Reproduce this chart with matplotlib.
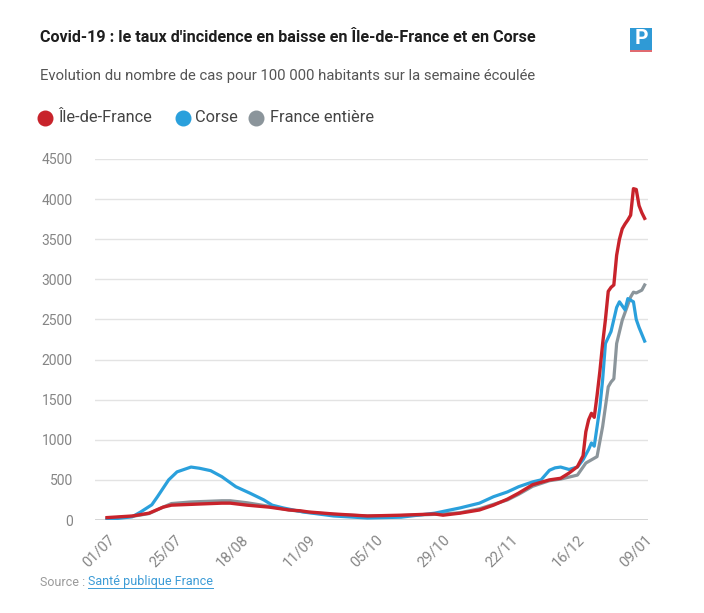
"""Incidence Covid-19 : Île-de-France, Corse, France entière (juillet 2021 - janvier 2022)."""
import matplotlib
matplotlib.use("Agg")
import matplotlib.pyplot as plt
from matplotlib import font_manager
from matplotlib.lines import Line2D
from matplotlib.patches import Rectangle
import pandas as pd

W, H = 704, 613
START = pd.Timestamp("2021-07-01")

# jours depuis le 01/07 et valeurs
ile_days = [0, 9, 15, 20, 23, 30, 41, 44, 50, 58, 65, 69, 72, 81, 93, 105, 117, 120,
            126, 133, 138, 143, 147, 152, 158, 162, 165, 168, 170, 171, 172, 173, 174,
            175, 176, 177, 178, 179, 180, 181, 182, 183, 184, 185, 186, 187, 188, 189,
            190, 191, 192]
ile_vals = [30, 50, 85, 160, 185, 195, 210, 210, 185, 160, 125, 115, 100, 75, 50, 60, 75, 60,
            85, 125, 185, 260, 335, 440, 500, 520, 585, 665, 800, 1100, 1250, 1330, 1280,
            1550, 1850, 2200, 2500, 2850, 2900, 2930, 3300, 3500, 3630, 3690, 3740, 3800, 4130, 4120,
            3920, 3830, 3760]

corse_days = [0, 9, 12, 16, 18, 20, 22, 25, 30, 33, 37, 41, 46, 51, 56, 59, 63, 70, 81, 93,
              105, 117, 126, 133, 138, 143, 147, 152, 155, 158, 160, 162, 165, 168, 170, 172,
              173, 174, 176, 177, 178, 180, 182, 183, 185, 186, 188, 189, 190, 192]
corse_vals = [5, 40, 100, 190, 290, 395, 500, 600, 660, 645, 615, 540, 415, 335, 250, 185, 150,
              100, 50, 25, 35, 85, 150, 210, 290, 350, 415, 475, 500, 620, 650, 660, 630, 660,
              750, 880, 960, 920, 1400, 1750, 2200, 2350, 2650, 2720, 2620, 2760, 2720, 2500,
              2400, 2230]

france_days = [0, 9, 15, 20, 23, 30, 41, 44, 50, 58, 65, 72, 81, 93, 105, 117, 126, 133, 138,
               143, 147, 152, 158, 162, 168, 171, 173, 175, 177, 179, 180, 181, 182, 184, 187,
               188, 189, 191, 192]
france_vals = [20, 45, 80, 160, 205, 225, 240, 240, 215, 170, 125, 95, 70, 50, 55, 70, 90, 140,
               195, 250, 320, 420, 490, 510, 560, 710, 750, 790, 1165, 1660, 1720, 1760, 2200,
               2490, 2780, 2840, 2830, 2865, 2930]

tick_days = [0, 24, 48, 72, 96, 120, 144, 168, 192]
tick_labels = ["01/07", "25/07", "18/08", "11/09", "05/10", "29/10", "22/11", "16/12", "09/01"]
yticks = [0, 500, 1000, 1500, 2000, 2500, 3000, 3500, 4000, 4500]

RED, BLUE, GREY = "#c8232b", "#2aa0dc", "#8b959b"

names = {f.name for f in font_manager.fontManager.ttflist}
NARROW = "Liberation Sans Narrow" if "Liberation Sans Narrow" in names else "Roboto"
REG = "Roboto"


def to_dates(days):
    return START + pd.to_timedelta(days, unit="D")


def fx(px):
    return px / W


def fy(py):
    return 1 - py / H


fig = plt.figure(figsize=(W / 100, H / 100), dpi=100)
fig.patch.set_facecolor("white")
ax = fig.add_axes([fx(95), fy(520), fx(648) - fx(95), fy(159) - fy(520)])

ax.plot(to_dates(france_days), france_vals, color=GREY, lw=2.3, solid_joinstyle="round", zorder=3)
ax.plot(to_dates(corse_days), corse_vals, color=BLUE, lw=2.3, solid_joinstyle="round", zorder=4)
ax.plot(to_dates(ile_days), ile_vals, color=RED, lw=2.4, solid_joinstyle="round", zorder=5)

ax.set_ylim(0, 4500)
ax.set_xlim(START - pd.Timedelta(days=4.3), START + pd.Timedelta(days=193.2))
ax.set_yticks(yticks)
ax.set_yticklabels([str(v) for v in yticks], fontsize=10, color="#858585", family=REG)
ax.set_xticks(to_dates(tick_days))
ax.set_xticklabels(tick_labels, fontsize=10.5, color="#858585", family=REG,
                   rotation=45, ha="right", rotation_mode="anchor")
ax.tick_params(axis="both", length=0)
ax.tick_params(axis="y", pad=16)
ax.tick_params(axis="x", pad=9)
ax.grid(True, axis="y", color="#e3e3e3", lw=1)
ax.set_axisbelow(True)
for s in ax.spines.values():
    s.set_visible(False)
ax.axhline(0, color="#cfcfcf", lw=1.2, zorder=1)

# titres
title = fig.text(fx(40), fy(38), "Covid-19 : le taux d'incidence en baisse en Île-de-France et en Corse",
                 fontsize=15, fontweight="bold", color="#1e1e1e", family=NARROW, va="center")
sub = fig.text(fx(40), fy(76), "Evolution du nombre de cas pour 100 000 habitants sur la semaine écoulée",
               fontsize=12, color="#555555", family=NARROW, va="center")

# légende
legend_items = [(45, 58, "Île-de-France", RED), (183, 195, "Corse", BLUE), (256, 270, "France entière", GREY)]
for cx, tx, lab, col in legend_items:
    fig.add_artist(Line2D([fx(cx)], [fy(118)], marker="o", ms=10.5, color=col, ls="none",
                          transform=fig.transFigure))
    fig.text(fx(tx), fy(118), lab, fontsize=11.8, color="#444444", family=REG, va="center")

# logo
fig.add_artist(Rectangle((fx(630), fy(50)), fx(22), 22 / H, transform=fig.transFigure,
                         facecolor="#2f9ad6", edgecolor="none"))
fig.add_artist(Rectangle((fx(630), fy(52)), fx(22), 2 / H, transform=fig.transFigure,
                         facecolor="#e06a70", edgecolor="none"))
fig.text(fx(641), fy(39), "P", fontsize=15, fontweight="bold", color="white",
         family=NARROW, ha="center", va="center")

# source
src = fig.text(fx(40), fy(582), "Source : ", fontsize=9, color="#9a9a9a", family=NARROW, va="center")

fig.canvas.draw()
r = fig.canvas.get_renderer()
for t, target in [(title, 498), (sub, 497)]:
    w = t.get_window_extent(r).width
    t.set_fontsize(t.get_fontsize() * target / w)
fig.canvas.draw()
e = src.get_window_extent(r)
x0 = e.x1 / W
link = fig.text(x0, fy(582), "Santé publique France", fontsize=9, color="#3c9bd6",
                family=NARROW, va="center")
fig.canvas.draw()
le = link.get_window_extent(r)
fig.add_artist(Line2D([le.x0 / W, le.x1 / W], [(le.y0 + 1) / H] * 2, color="#3c9bd6", lw=0.7,
                      transform=fig.transFigure))

fig.savefig("out.png", dpi=100, facecolor="white")
